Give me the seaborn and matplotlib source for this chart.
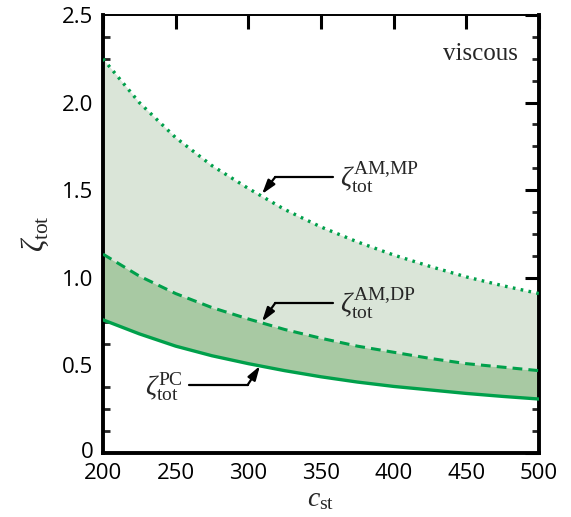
import numpy as np
import pandas as pd
import matplotlib
matplotlib.use("Agg")
import matplotlib.pyplot as plt
import matplotlib.transforms as mtrans
import seaborn as sns
from matplotlib.ticker import MultipleLocator

sns.set_theme(style="white")
plt.rcParams['font.family'] = ['Open Sans', 'DejaVu Sans']
plt.rcParams['mathtext.fontset'] = 'custom'
plt.rcParams['mathtext.rm'] = 'Liberation Serif'
plt.rcParams['mathtext.it'] = 'Liberation Serif:italic'

c_st = [200, 225, 250, 275, 300, 325, 350, 375, 400, 425, 450, 475, 500]
zeta_am_mp = [2.25, 2.00, 1.80, 1.64, 1.51, 1.39, 1.29, 1.205, 1.13, 1.065, 1.005, 0.955, 0.91]
zeta_am_dp = [1.135, 1.01, 0.91, 0.83, 0.765, 0.705, 0.655, 0.61, 0.575, 0.54, 0.51, 0.49, 0.47]
zeta_pc = [0.76, 0.68, 0.61, 0.555, 0.51, 0.47, 0.435, 0.405, 0.38, 0.36, 0.34, 0.323, 0.308]

df = pd.DataFrame({"c": c_st, "mp": zeta_am_mp, "dp": zeta_am_dp, "pc": zeta_pc})

green = "#00a04b"
light = "#dae5d8"
dark = "#a8c9a3"

fig = plt.figure(figsize=(5.71, 5.17), dpi=100)
ax = fig.add_axes([103/571, 1-453/517, 436/571, 438/517])

ax.fill_between(df["c"], df["dp"], df["mp"], color=light, lw=0, zorder=1)
ax.fill_between(df["c"], df["pc"], df["dp"], color=dark, lw=0, zorder=1)

sns.lineplot(data=df, x="c", y="mp", ax=ax, color=green, lw=2.4, linestyle=(0, (0.8, 1.6)), zorder=3)
sns.lineplot(data=df, x="c", y="dp", ax=ax, color=green, lw=2.2, linestyle=(0, (3.2, 2.0)), zorder=3)
sns.lineplot(data=df, x="c", y="pc", ax=ax, color=green, lw=2.4, zorder=3)

ax.set_xlim(200, 500)
ax.set_ylim(0, 2.5)
ax.xaxis.set_major_locator(MultipleLocator(50))
ax.yaxis.set_minor_locator(MultipleLocator(0.125))
ax.set_yticks([0, 0.5, 1.0, 1.5, 2.0, 2.5])
ax.set_yticklabels(["0", "0.5", "1.0", "1.5", "2.0", "2.5"])
ax.tick_params(axis='both', which='major', direction='in', length=10, width=2.2,
               labelsize=16, top=True, right=True, pad=5, colors='black')
ax.tick_params(axis='x', which='major', pad=7)
ax.tick_params(axis='y', which='major', pad=7)
ax.tick_params(axis='y', which='minor', direction='in', length=5, width=2.0, left=True, right=True)
for s in ["left", "right", "bottom"]:
    ax.spines[s].set_linewidth(2.8)
    ax.spines[s].set_color("black")
ax.spines["top"].set_linewidth(1.4)
ax.spines["top"].set_color("black")

ax.set_xlabel(r"$c_{\rm st}$", fontsize=20, labelpad=1)
ax.set_ylabel(r"$\zeta_{\rm tot}$", fontsize=22, labelpad=8)

# nudge the "0" label slightly upward so it clears "200"
lbl0 = ax.yaxis.get_major_ticks()[0].label1
lbl0.set_transform(lbl0.get_transform() + mtrans.ScaledTranslation(0, 3/100, fig.dpi_scale_trans))

ax.text(485.5, 2.28, "viscous", fontsize=18, family="Liberation Serif", ha="right", va="center")

arrowprops = dict(arrowstyle="-|>,head_length=0.7,head_width=0.22", color="black", lw=1.6,
                  shrinkA=0, shrinkB=0)
# AM,MP
ax.plot([318.5, 358.5], [1.575, 1.575], color="black", lw=1.6, zorder=4)
ax.annotate("", xy=(309.4, 1.478), xytext=(318.5, 1.575), arrowprops=arrowprops, zorder=4)
ax.text(363, 1.575, r"$\zeta_{\rm tot}^{\rm AM{,}MP}$", fontsize=20, ha="left", va="center")
# AM,DP
ax.plot([318.5, 358.5], [0.856, 0.856], color="black", lw=1.6, zorder=4)
ax.annotate("", xy=(309.4, 0.75), xytext=(318.5, 0.856), arrowprops=arrowprops, zorder=4)
ax.text(363, 0.856, r"$\zeta_{\rm tot}^{\rm AM{,}DP}$", fontsize=20, ha="left", va="center")
# PC
ax.plot([259.5, 299.5], [0.388, 0.388], color="black", lw=1.6, zorder=4)
ax.annotate("", xy=(308, 0.497), xytext=(299.5, 0.388), arrowprops=arrowprops, zorder=4)
ax.text(229, 0.38, r"$\zeta_{\rm tot}^{\rm PC}$", fontsize=20, ha="left", va="center")

fig.savefig("out.png", dpi=100)
